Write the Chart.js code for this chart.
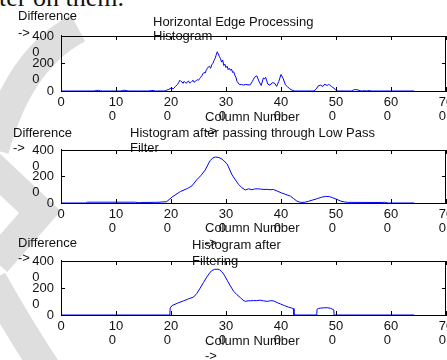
<!DOCTYPE html>
<html>
<head>
<meta charset="utf-8">
<script src="https://cdn.jsdelivr.net/npm/chart.js@4.4.1/dist/chart.umd.min.js"></script>
<style>
  html, body { margin: 0; padding: 0; background: #fff; }
  body { width: 447px; height: 360px; overflow: hidden; position: relative; }
  canvas { position: absolute; left: 0; z-index: 2; }
  .txt { position: absolute; z-index: 3; font: 13px "Liberation Sans", Arial, sans-serif; line-height: 15px; color: #111; white-space: nowrap; }
  .page { position: absolute; z-index: 1; left: -1px; top: -17px; font: 26px "Liberation Serif", "Times New Roman", serif; color: #111; white-space: nowrap; }
  #mark { position: absolute; left: 0; top: 0; z-index: 0; }
</style>
</head>
<body>
<svg id="mark" width="447" height="360">
  <g fill="none" stroke="#dedede" stroke-width="30">
    <path d="M 78 28 Q 18 60 -6 150"/>
    <path d="M -10 165 L 40 212 L -4 262"/>
    <path d="M -8 280 Q 20 330 48 372"/>
  </g>
</svg>
<div class="page">ter on them.</div>

<canvas id="plot1" width="470" height="114" style="top:13px"></canvas>
<canvas id="plot2" width="470" height="112" style="top:127px"></canvas>
<canvas id="plot3" width="470" height="113" style="top:238px"></canvas>

<!-- plot 1 labels -->
<div class="txt" style="left:18px;top:8px">Difference</div>
<div class="txt" style="left:18px;top:25px">-&gt;</div>
<div class="txt" style="left:153px;top:14px">Horizontal Edge Processing</div>
<div class="txt" style="left:153px;top:28px">Histogram</div>
<div class="txt" style="left:205px;top:109px">Column Number</div>
<div class="txt" style="left:205px;top:123px">-&gt;</div>
<!-- plot 2 labels -->
<div class="txt" style="left:13px;top:125px">Difference</div>
<div class="txt" style="left:13px;top:140px">-&gt;</div>
<div class="txt" style="left:130px;top:125px">Histogram after passing through Low Pass</div>
<div class="txt" style="left:130px;top:140px">Filter</div>
<div class="txt" style="left:205px;top:220px">Column Number</div>
<div class="txt" style="left:205px;top:235px">-&gt;</div>
<!-- plot 3 labels -->
<div class="txt" style="left:18px;top:235px">Difference</div>
<div class="txt" style="left:18px;top:250px">-&gt;</div>
<div class="txt" style="left:192px;top:237px">Histogram after</div>
<div class="txt" style="left:192px;top:253px">Filtering</div>
<div class="txt" style="left:205px;top:333px">Column Number</div>
<div class="txt" style="left:205px;top:348px">-&gt;</div>

<script>
// 원본 히스토그램 (열 번호 / 차이값)
const rawCols = [0, 60, 64, 68, 72, 76, 108, 112, 116, 120, 124, 160, 164, 168, 172, 188,
  192, 196, 200, 204, 208, 212, 214, 216, 218, 220, 222, 224, 226, 228, 230, 232, 234, 236, 238,
  240, 242, 244, 246, 248, 250, 252, 254, 256, 258, 260, 262, 264, 266, 268, 270, 272, 274, 276,
  278, 280, 282, 284, 286, 288, 290, 292, 294, 296, 298, 300, 302, 304, 306, 308, 310, 312, 314,
  316, 318, 320, 324, 328, 332, 336, 340, 344, 348, 350, 352, 356, 360, 364, 368, 370, 372, 376,
  380, 384, 388, 392, 396, 400, 404, 408, 412, 416, 420, 424, 460, 464, 468, 472, 476, 478, 480,
  484, 486, 488, 492, 496, 500, 504, 528, 532, 536, 540, 544, 548, 552, 556, 560, 564, 642];
const rawVals = [0, 0, 30, 50, 10, 0, 0, 40, 50, 20, 0, 0, 30, 40, 0, 0,
  60, 120, 210, 150, 330, 480, 620, 780, 700, 660, 560, 700, 610, 560, 680, 720, 580, 620, 700,
  780, 640, 700, 760, 820, 780, 900, 1000, 1100, 1250, 1350, 1300, 1500, 1650, 1750, 1800, 1650, 1900, 2000,
  2200, 2350, 2600, 2850, 2700, 2500, 2350, 2100, 2250, 1850, 1950, 1700, 1800, 1550, 1650, 1500, 1600, 1350, 1400,
  1150, 1000, 700, 480, 470, 430, 480, 440, 450, 700, 850, 1000, 1100, 700, 400, 950, 880, 1000, 500,
  420, 600, 580, 340, 700, 1200, 900, 450, 300, 160, 60, 0, 0, 150, 380, 420, 330, 450, 480,
  400, 470, 450, 320, 220, 40, 0, 0, 80, 110, 70, 20, 0, 30, 0, 30, 0, 0];

// 저역 통과 필터 후
const lowCols = [0, 45, 48, 135, 140, 145, 172, 180, 192, 202, 217, 230, 238, 247, 255, 262,
  271, 276, 281, 287, 293, 302, 311, 317, 323, 329, 335, 341, 347, 352, 357, 363, 369, 375,
  380, 386, 393, 401, 409, 417, 423, 429, 434, 438, 444, 450, 458, 466, 474, 481, 488, 494,
  501, 509, 515, 521, 560, 585, 588, 592, 595, 642];
const lowVals = [0, 0, 60, 60, 20, 40, 50, 60, 100, 450, 860, 1100, 1290, 1760, 2100, 2480,
  3190, 3400, 3470, 3430, 3310, 2950, 2120, 1750, 1400, 1150, 980, 1070, 1000, 1060, 1070, 1050, 1020, 1030,
  1000, 1020, 900, 760, 640, 520, 330, 140, 70, 40, 60, 130, 230, 330, 440, 500, 480, 400,
  280, 140, 80, 50, 40, 40, 60, 30, 0, 0];

// 필터링 후
const filtCols = [0, 198, 198.5, 202, 212, 223, 232, 241, 247, 253, 259, 265, 270, 274, 279, 284,
  288, 292, 297, 302, 308, 314, 320, 326, 331, 335, 340, 344, 350, 356, 362, 368, 375, 381,
  387, 393, 399, 406, 414, 419, 423, 423.5, 465, 465.5, 468, 472, 478, 484, 490, 494, 496,
  496.5, 642];
const filtVals = [0, 0, 510, 700, 880, 1050, 1200, 1330, 1600, 1990, 2400, 2810, 3100, 3280, 3380, 3390,
  3350, 3230, 2950, 2580, 2150, 1750, 1500, 1290, 1100, 1010, 1050, 1050, 1070, 1060, 1100, 1050, 1010, 1060,
  1040, 920, 820, 700, 580, 520, 470, 0, 0, 420, 480, 510, 530, 540, 500, 420, 380,
  0, 0];

// 축 눈금 라벨 (MATLAB처럼 두 줄로 잘린 모양)
const xTickLabels = { 0: ['0'], 100: ['10', '0  '], 200: ['20', '0  '], 300: ['30', '0  '],
  400: ['40', '0  '], 500: ['50', '0  '], 600: ['60', '0  '], 700: ['70', '0  '] };
const yTickLabels = { 0: ['0', ''], 2000: ['200', '0    '], 4000: ['400', '0    '] };

// 박스 테두리 + 안쪽으로 향하는 눈금
const insideTicks = {
  id: 'insideTicks',
  afterDraw(chart) {
    const ctx = chart.ctx;
    const a = chart.chartArea;
    const xs = chart.scales.x;
    const ys = chart.scales.y;
    const top = Math.round(a.top) + 0.5;
    const right = Math.round(a.right) - 0.5;
    ctx.save();
    ctx.strokeStyle = '#000';
    ctx.lineWidth = 1;
    ctx.beginPath();
    ctx.moveTo(a.left, top);
    ctx.lineTo(a.right, top);
    ctx.moveTo(right, a.top);
    ctx.lineTo(right, a.bottom);
    xs.ticks.forEach(function (t) {
      const px = Math.round(xs.getPixelForValue(t.value)) + 0.5;
      ctx.moveTo(px, a.top);
      ctx.lineTo(px, a.top + 4);
      ctx.moveTo(px, a.bottom);
      ctx.lineTo(px, a.bottom - 4);
    });
    ys.ticks.forEach(function (t) {
      const py = Math.round(ys.getPixelForValue(t.value)) + 0.5;
      ctx.moveTo(a.left, py);
      ctx.lineTo(a.left + 4, py);
      ctx.moveTo(a.right, py);
      ctx.lineTo(a.right - 4, py);
    });
    ctx.stroke();
    ctx.restore();
  }
};

function createPlot(id, cols, vals) {
  const points = cols.map((c, i) => ({ x: c, y: vals[i] }));
  const font = { family: '"Liberation Sans", Arial, sans-serif', size: 13 };
  return new Chart(document.getElementById(id), {
    type: 'line',
    data: {
      datasets: [{
        data: points,
        borderColor: '#0000ff',
        borderWidth: 1,
        pointRadius: 0,
        fill: false,
        tension: 0
      }]
    },
    options: {
      responsive: false,
      animation: false,
      devicePixelRatio: 1,
      layout: { padding: { top: 20, right: 24, left: 0, bottom: 0 } },
      plugins: { legend: { display: false }, tooltip: { enabled: false } },
      scales: {
        x: {
          type: 'linear',
          min: 0,
          max: 700,
          grid: { display: false, drawTicks: false },
          border: { display: true, color: '#000', width: 1 },
          ticks: {
            stepSize: 100,
            autoSkip: false,
            maxRotation: 0,
            padding: 4,
            color: '#111',
            font: Object.assign({ lineHeight: 1.115 }, font),
            callback: v => xTickLabels[v]
          },
          afterFit: s => { s.height = 36; }
        },
        y: {
          min: 0,
          max: 4000,
          grid: { display: false, drawTicks: false },
          border: { display: true, color: '#000', width: 1 },
          ticks: {
            stepSize: 2000,
            autoSkip: false,
            padding: 7,
            labelOffset: 8,
            color: '#111',
            font: Object.assign({ lineHeight: 1.23 }, font),
            callback: v => yTickLabels[v]
          },
          afterFit: s => { s.width = 61; }
        }
      }
    },
    plugins: [insideTicks]
  });
}

window.plot1 = createPlot('plot1', rawCols, rawVals);
window.plot2 = createPlot('plot2', lowCols, lowVals);
window.plot3 = createPlot('plot3', filtCols, filtVals);
</script>
</body>
</html>
